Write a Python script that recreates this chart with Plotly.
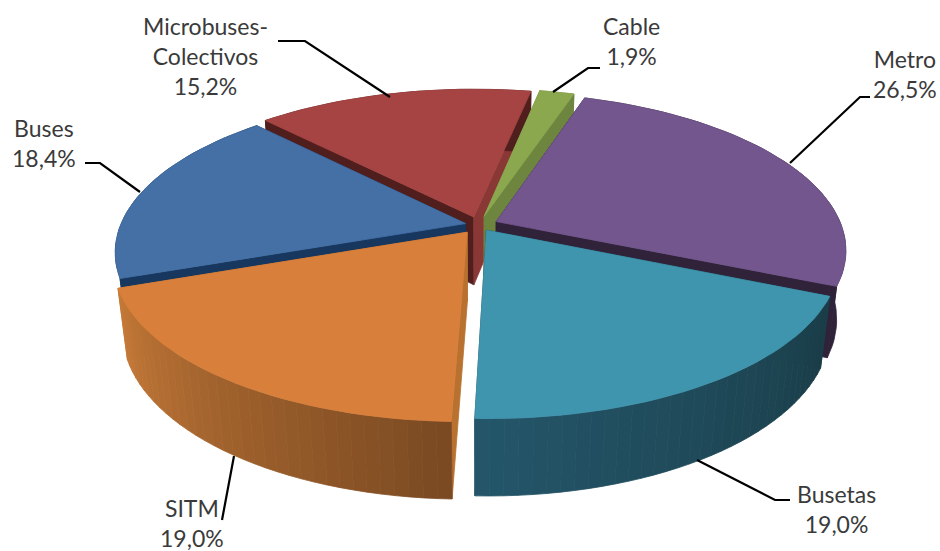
import math
import plotly.graph_objects as go

categories = ["Metro", "Busetas", "SITM", "Buses", "Microbuses-<br>Colectivos", "Cable"]
values = [26.5, 19.0, 19.0, 18.4, 15.2, 1.9]
explode = [0.055, 0.04, 0.058, 0.04, 0.055, 0.06]
top_colors = ["#72568D", "#4095AE", "#D87F3B", "#4470A6", "#A54442", "#8BA84F"]
start_wall = ["#2F2239", "#1A3D48", "#B9712F", "#17375E", "#4F1E1D", "#6D853E"]
end_wall = ["#2F2239", "#1A3D48", "#B9712F", "#17375E", "#8A3836", "#6D853E"]
arc_from = ["#2F2239", "#1A3D48", "#7B4A22", "#17375E", "#4F1E1D", "#6D853E"]
arc_to = ["#2F2239", "#24566A", "#C67A38", "#17375E", "#4F1E1D", "#6D853E"]
draw_order = [4, 5, 0, 3, 2, 1]
label_centers = [(905, 74), (836, 509), (192, 523), (44, 143), (205, 56), (631, 41)]
leaders = [
    [(790, 163), (860, 97), (870, 97)],
    [(697, 460), (775, 500), (790, 500)],
    [(234, 456), (222, 520)],
    [(140, 192), (100, 163), (85, 163)],
    [(390, 97), (305, 41), (278, 41)],
    [(553, 92), (588, 68), (600, 68)],
]

START = 18.0
CX, CY, R, RY, K, M, D = 479, 225, 345, 153, 0.177, 0.025, 70


def project(u, v, z):
    w = 1 + K * v + M * z
    return CX + R * u / w, CY + (-RY * v + D * z) / w


def hex_mix(a, b, t):
    ca = [int(a[i:i + 2], 16) for i in (1, 3, 5)]
    cb = [int(b[i:i + 2], 16) for i in (1, 3, 5)]
    return "#%02X%02X%02X" % tuple(round(x + (y - x) * t) for x, y in zip(ca, cb))


def poly(fig, pts, color):
    fig.add_trace(go.Scatter(
        x=[p[0] for p in pts] + [pts[0][0]], y=[p[1] for p in pts] + [pts[0][1]],
        mode="lines", fill="toself", fillcolor=color,
        line=dict(color=color, width=0.8), hoverinfo="skip", showlegend=False,
    ))


fig = go.Figure()
total = sum(values)
bounds = [START]
for val in values:
    bounds.append(bounds[-1] + val / total * 360)

for i in draw_order:
    a0, a1 = bounds[i], bounds[i + 1]
    mid = math.radians((a0 + a1) / 2)
    ou, ov = explode[i] * math.sin(mid), explode[i] * math.cos(mid)
    n = max(3, int((a1 - a0) / 2))
    angs = [math.radians(a0 + (a1 - a0) * j / n) for j in range(n + 1)]
    rim = [(ou + math.sin(a), ov + math.cos(a)) for a in angs]
    top = [project(u, v, 0) for u, v in rim]
    bot = [project(u, v, 1) for u, v in rim]
    apex_t, apex_b = project(ou, ov, 0), project(ou, ov, 1)

    poly(fig, [apex_t, top[0], bot[0], apex_b], start_wall[i])
    poly(fig, [apex_t, top[-1], bot[-1], apex_b], end_wall[i])
    if arc_from[i] == arc_to[i]:
        poly(fig, top + bot[::-1], arc_from[i])
    else:
        for j in range(n):
            if rim[j][1] > 0.1 and rim[j + 1][1] > 0.1:
                continue
            poly(fig, [top[j], top[j + 1], bot[j + 1], bot[j]],
                 hex_mix(arc_from[i], arc_to[i], j / n))
    poly(fig, [apex_t] + top, top_colors[i])

for line in leaders:
    fig.add_trace(go.Scatter(
        x=[p[0] for p in line], y=[p[1] for p in line], mode="lines",
        line=dict(color="#000000", width=2.2), hoverinfo="skip", showlegend=False,
    ))

for cat, val, (lx, ly) in zip(categories, values, label_centers):
    pct = f"{val:.1f}".replace(".", ",") + "%"
    fig.add_annotation(x=lx, y=ly, text=f"{cat}<br>{pct}", showarrow=False,
                       font=dict(family="Lato", size=23, color="#3A3A3A"), align="center")

fig.update_layout(
    width=940, height=551, margin=dict(l=0, r=0, t=0, b=0),
    paper_bgcolor="white", plot_bgcolor="white", showlegend=False,
    xaxis=dict(range=[0, 940], visible=False, fixedrange=True),
    yaxis=dict(range=[551, 0], visible=False, fixedrange=True),
)
fig.write_html("out.html", config={"displayModeBar": False},
               post_script="document.body.style.margin='0';document.body.style.overflow='hidden';")
